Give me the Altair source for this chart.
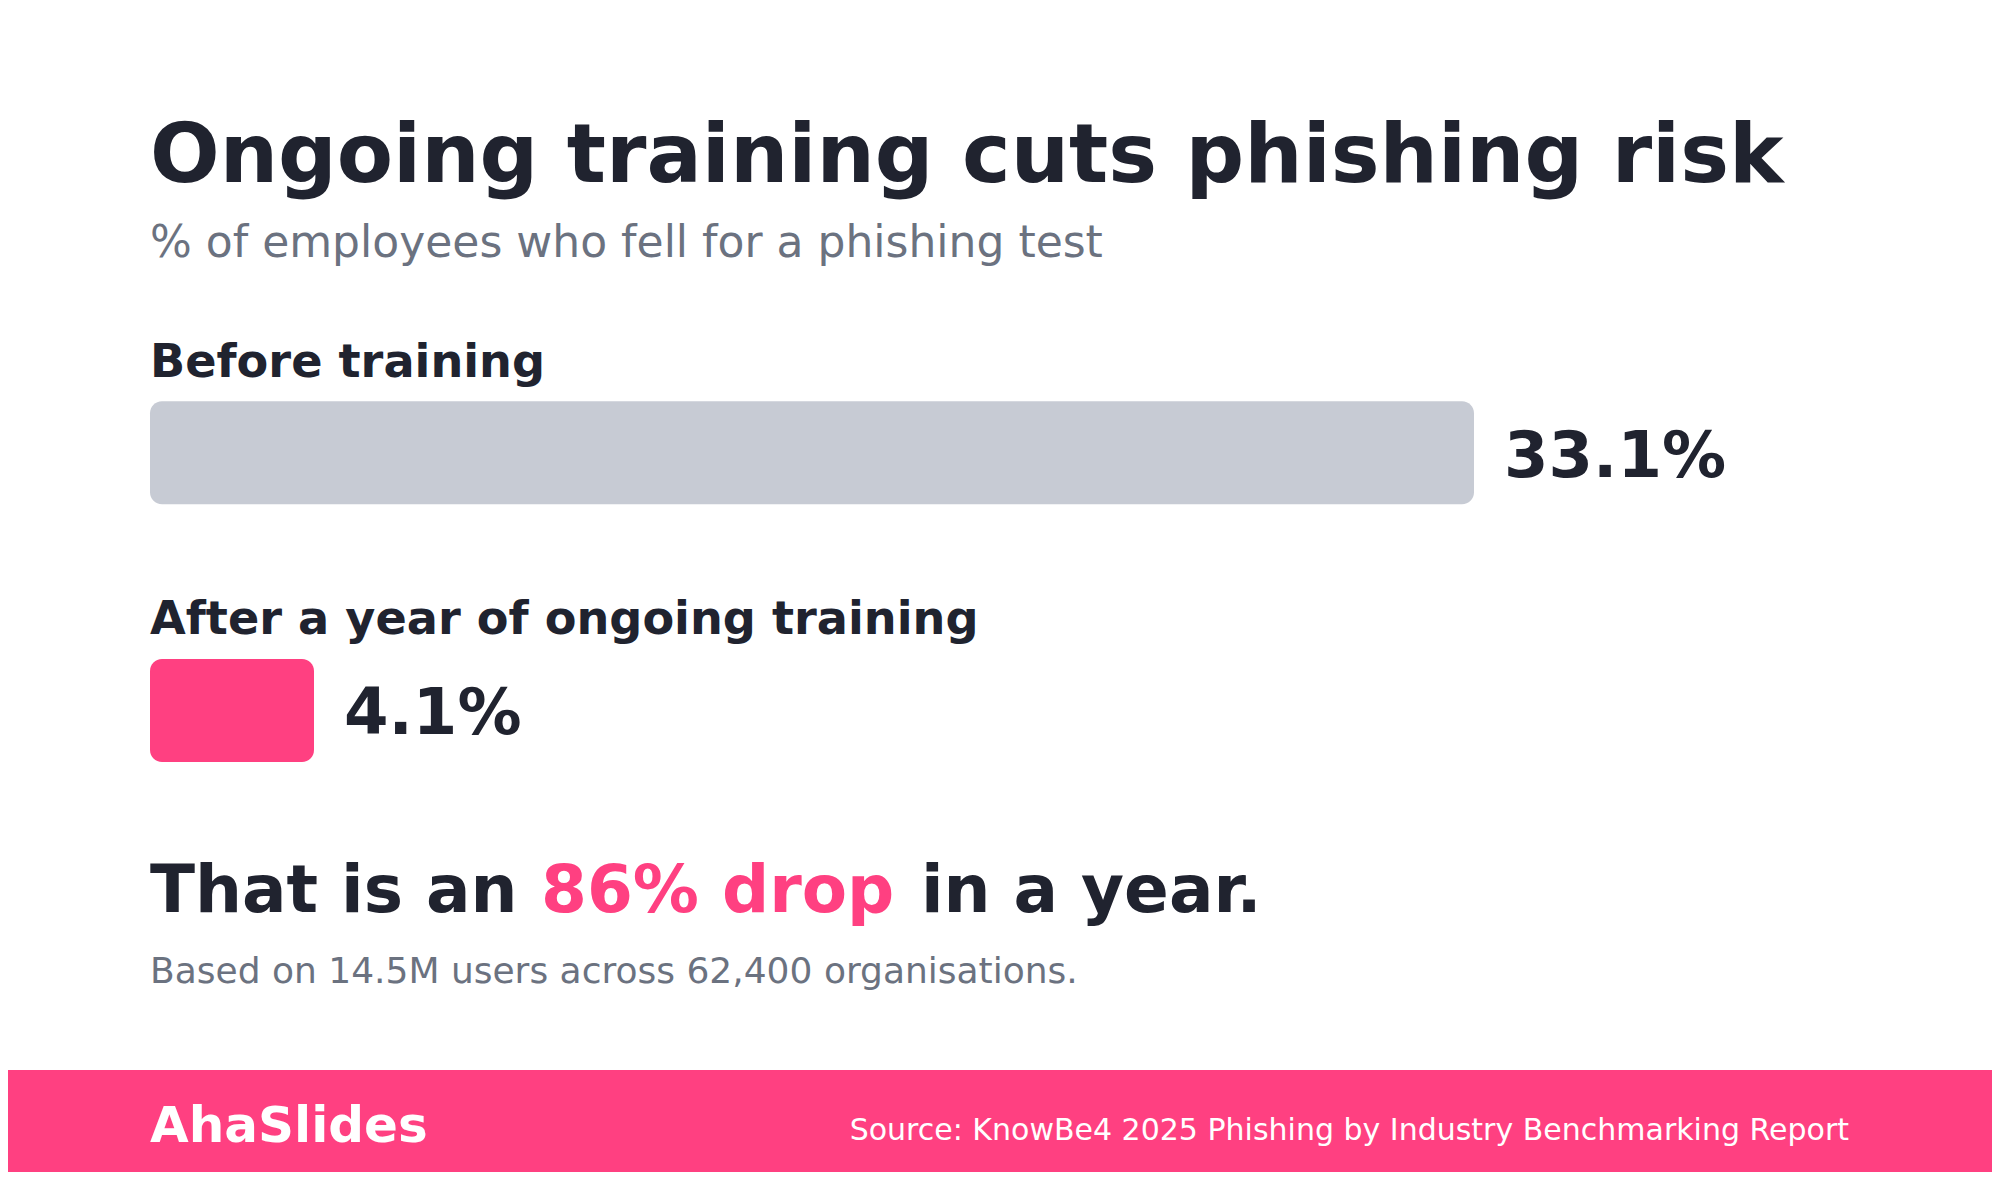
import altair as alt
import pandas as pd

# ---- data ----
categories = ["Before training", "After a year of ongoing training"]
values = [33.1, 4.1]
value_labels = ["33.1%", "4.1%"]
bar_colors = ["#c7cbd4", "#ff4081"]

title_text = "Ongoing training cuts phishing risk"
subtitle_text = "% of employees who fell for a phishing test"
takeaway_parts = ["That is an ", "86% drop", "in a year."]
note_text = "Based on 14.5M users across 62,400 organisations."
brand_text = "AhaSlides"
source_text = "Source: KnowBe4 2025 Phishing by Industry Benchmarking Report"

# ---- style / layout ----
W, H = 1984, 1164
FONT = "DejaVu Sans"
DARK = "#20232f"
GRAY = "#6b7280"
PINK = "#ff4081"
LEFT = 142
PX_PER_UNIT = 40      # px per percentage point
ROW_STEP = 260.0      # px between bar centres
FIRST_CENTER = 443.5  # px of first bar centre
BAR_H = 103

df = pd.DataFrame({"category": categories, "value": values, "label": value_labels})

x_scale = alt.Scale(domain=[-LEFT / PX_PER_UNIT, (W - LEFT) / PX_PER_UNIT], nice=False, zero=False)
y_lo = 1 - FIRST_CENTER / ROW_STEP
y_scale = alt.Scale(domain=[y_lo, y_lo + H / ROW_STEP], nice=False, zero=False, reverse=True)

base = alt.Chart(df).transform_window(
    row="row_number()"
).transform_calculate(start="0")

bars = base.mark_bar(cornerRadius=12, size=BAR_H, orient="horizontal").encode(
    x=alt.X("value:Q", scale=x_scale, axis=None),
    x2=alt.X2("start:Q"),
    y=alt.Y("row:Q", scale=y_scale, axis=None),
    color=alt.Color("category:N", scale=alt.Scale(domain=categories, range=bar_colors), legend=None),
)

cat_labels = base.mark_text(
    align="left", baseline="alphabetic", dy=-76, font=FONT, fontSize=46.2,
    fontWeight="bold", color=DARK,
).encode(
    x=alt.X("start:Q", scale=x_scale, axis=None),
    y=alt.Y("row:Q", scale=y_scale, axis=None),
    text="category:N",
)

val_labels = base.mark_text(
    align="left", baseline="alphabetic", dx=30, dy=24, font=FONT, fontSize=64,
    fontWeight="bold", color=DARK,
).encode(
    x=alt.X("value:Q", scale=x_scale, axis=None),
    y=alt.Y("row:Q", scale=y_scale, axis=None),
    text="label:N",
)


def txt(s, x, y, size, color, weight="normal", align="left"):
    return alt.Chart(pd.DataFrame({"t": [s]})).mark_text(
        align=align, baseline="alphabetic", font=FONT, fontSize=size,
        fontWeight=weight, color=color,
    ).encode(x=alt.value(x), y=alt.value(y), text="t:N")


band = alt.Chart(pd.DataFrame({"a": [0]})).mark_rect(color=PINK).encode(
    x=alt.value(0), x2=alt.value(W), y=alt.value(1062), y2=alt.value(H)
)

layers = [
    txt(title_text, LEFT, 174, 82, DARK, "bold"),
    txt(subtitle_text, LEFT, 249, 44, GRAY),
    bars,
    cat_labels,
    val_labels,
    txt(takeaway_parts[0], LEFT, 904, 66, DARK, "bold"),
    txt(takeaway_parts[1], 533, 904, 66, PINK, "bold"),
    txt(takeaway_parts[2], 913, 904, 66, DARK, "bold"),
    txt(note_text, LEFT, 975, 36, GRAY),
    band,
    txt(brand_text, LEFT, 1134, 50, "#ffffff", "bold"),
    txt(source_text, 1841, 1132, 30, "#ffffff", "normal", "right"),
]

chart = alt.layer(*layers).properties(
    width=W, height=H, padding=0,
    autosize=alt.AutoSizeParams(type="none"),
    background="#ffffff",
).configure_view(stroke=None)

chart.save("out.html", embed_options={"renderer": "svg", "actions": False})
